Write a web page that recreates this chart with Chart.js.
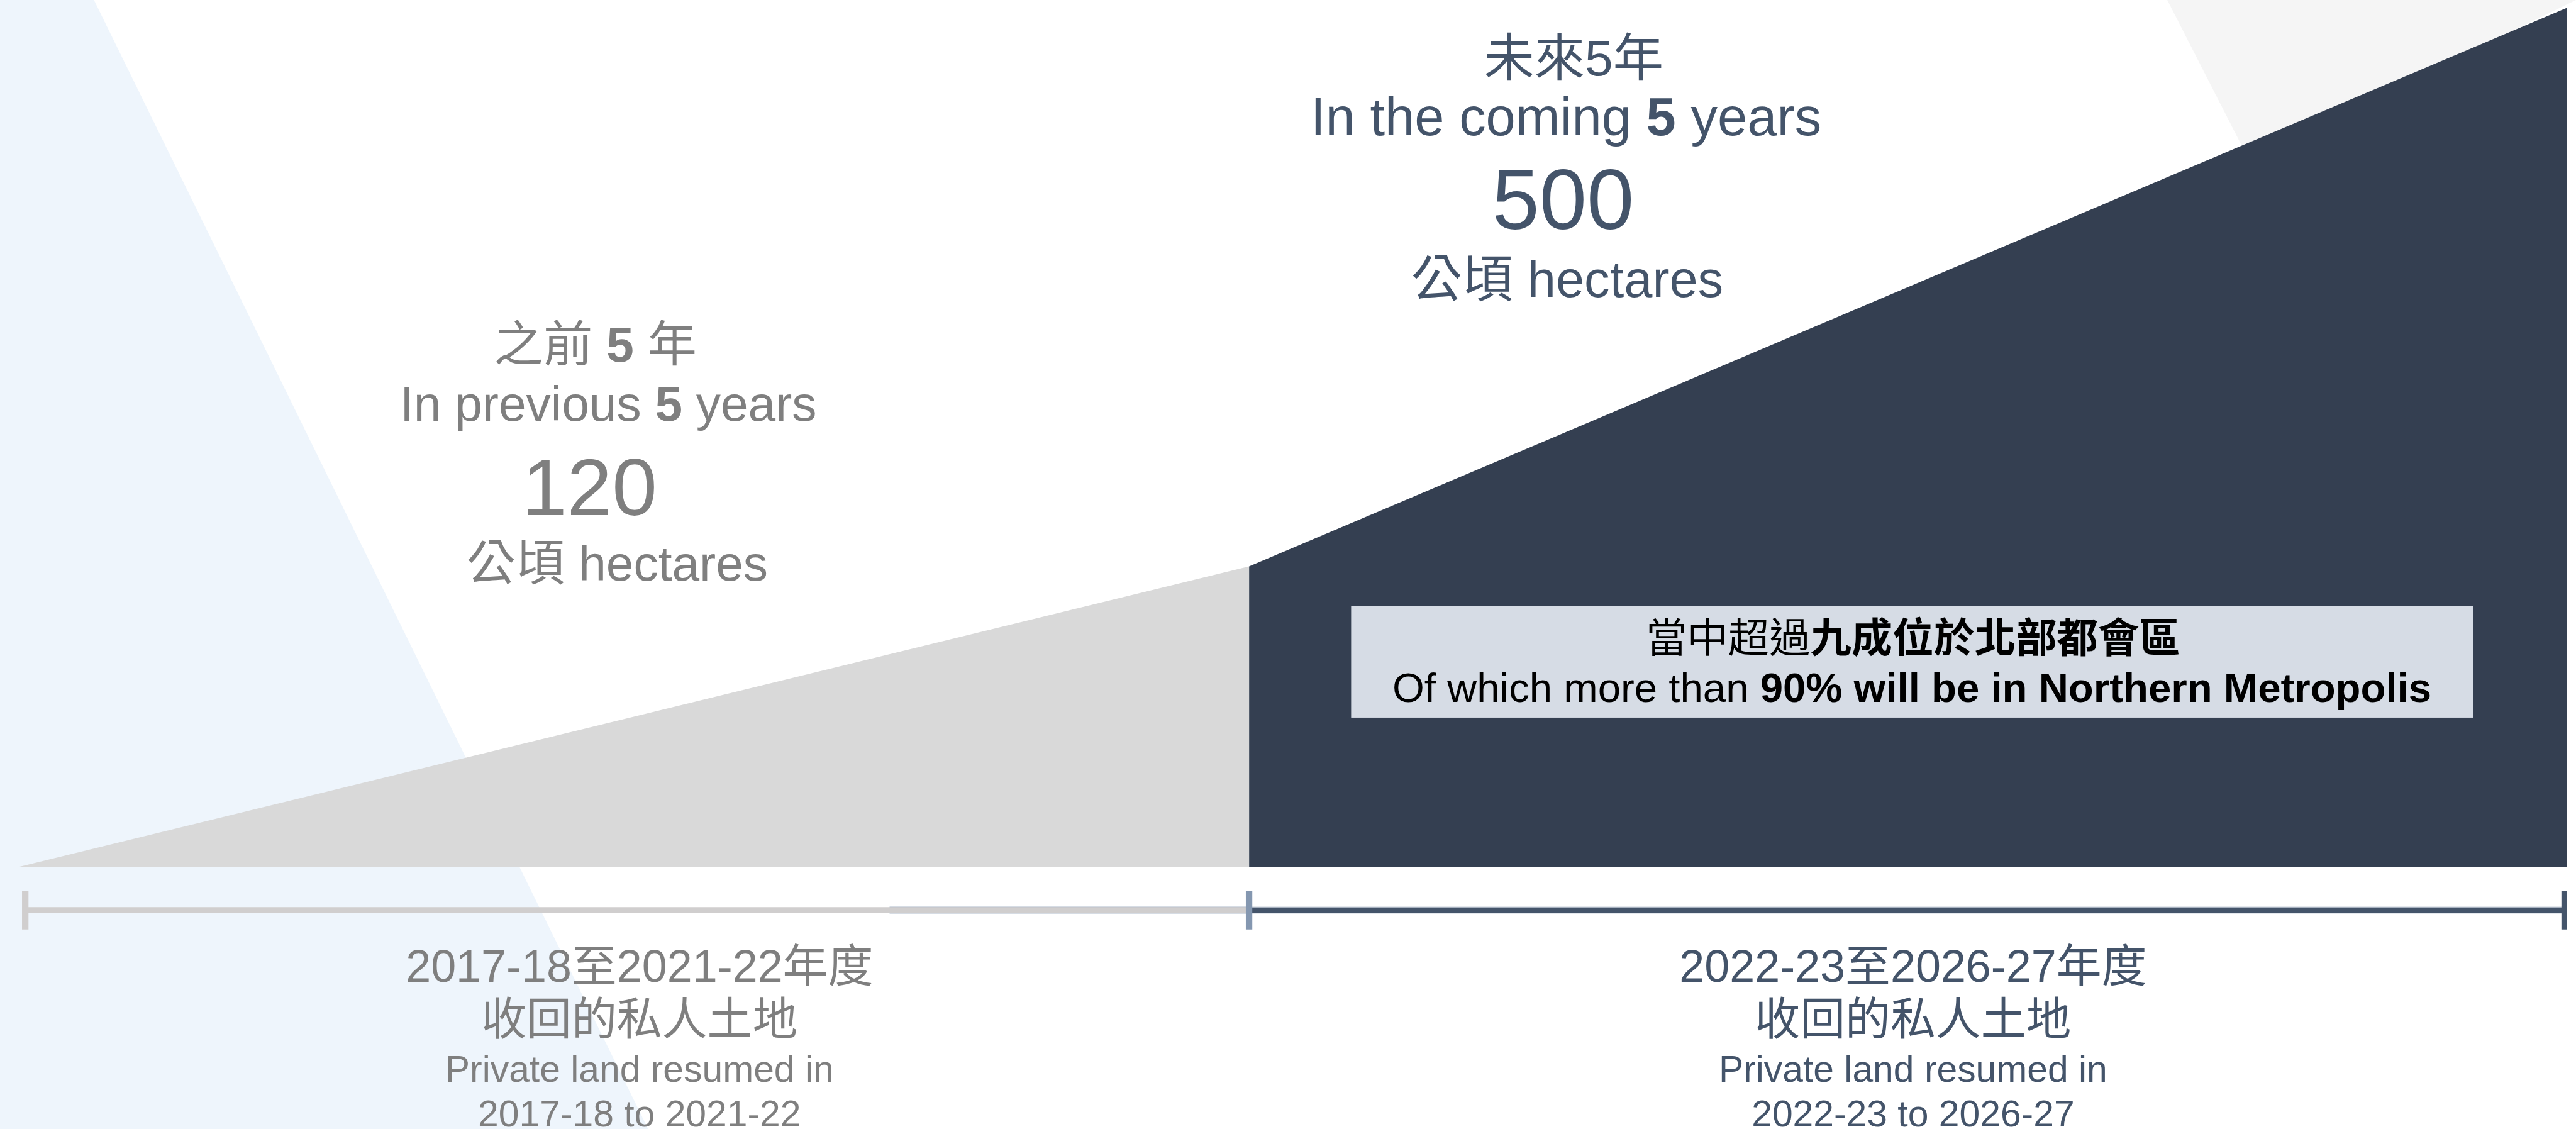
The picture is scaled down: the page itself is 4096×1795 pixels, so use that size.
<!DOCTYPE html>
<html>
<head>
<meta charset="utf-8">
<script src="https://cdn.jsdelivr.net/npm/chart.js@4/dist/chart.umd.min.js"></script>
<style>
  html, body { margin: 0; padding: 0; background: #fff; }
  canvas { display: block; }
</style>
</head>
<body>
<canvas id="landChart" width="4096" height="1795"></canvas>
<script>
// reference was 4387 wide, everything is drawn at this scale
var S = 4096 / 4387;
var FONT = "'Liberation Sans', 'Noto Sans CJK TC', sans-serif";

// area shapes: x is the period axis (0 = start, 10 = end), y is relative height
var shapeX = [0, 4.83, 10];
var shapeHeights = [0, 35, 100];

// timeline along the bottom
var timelineX = [0.03, 4.83, 9.99];
var timelineShadeStart = 3.42;
var timelineY = -5;

// texts
var totals = ['120', '500'];
var periodTitles = ['2017-18至2021-22年度', '2022-23至2026-27年度'];
var periodSub = ['收回的私人土地', '收回的私人土地'];
var periodEn = ['Private land resumed in', 'Private land resumed in'];
var periodRange = ['2017-18 to 2021-22', '2022-23 to 2026-27'];

var grey = '#7F7F7F';
var slate = '#44546A';

// y=0 sits at 1477 and y=100 at 13 in reference pixels, the plot runs to the bottom edge
var yMin = -(1923 - 1477) / ((1477 - 13) / 100);

function pts(xs, ys) {
  var out = [];
  for (var i = 0; i < xs.length; i++) out.push({x: xs[i], y: ys[i]});
  return out;
}

// draw a line made of regular/bold runs, centred on cx (reference coords)
function drawRuns(ctx, parts, cx, y, size, color) {
  var px = size * S;
  var total = 0;
  parts.forEach(function(p) {
    ctx.font = (p[1] ? 'bold ' : '') + px + 'px ' + FONT;
    p.w = ctx.measureText(p[0]).width;
    total += p.w;
  });
  var x = cx * S - total / 2;
  ctx.fillStyle = color;
  ctx.textAlign = 'left';
  ctx.textBaseline = 'alphabetic';
  parts.forEach(function(p) {
    ctx.font = (p[1] ? 'bold ' : '') + px + 'px ' + FONT;
    ctx.fillText(p[0], x, y * S);
    x += p.w;
  });
}

function poly(ctx, points, color) {
  ctx.beginPath();
  points.forEach(function(p, i) {
    if (i == 0) ctx.moveTo(p[0] * S, p[1] * S);
    else ctx.lineTo(p[0] * S, p[1] * S);
  });
  ctx.closePath();
  ctx.fillStyle = color;
  ctx.fill();
}

var backdrop = {
  id: 'backdrop',
  beforeDatasetsDraw: function(chart) {
    var ctx = chart.ctx;
    ctx.save();
    ctx.fillStyle = '#fff';
    ctx.fillRect(0, 0, chart.width, chart.height);
    poly(ctx, [[0, 0], [160, 0], [1104, 1923], [0, 1923]], '#EEF5FC');
    poly(ctx, [[3691, 0], [4387, 0], [3830, 272]], '#F5F5F5');
    ctx.restore();
  }
};

var texts = {
  id: 'texts',
  afterDatasetsDraw: function(chart) {
    var ctx = chart.ctx;
    ctx.save();

    // previous 5 years
    drawRuns(ctx, [['之前 ', 0], ['5', 1], [' 年', 0]], 1014, 616, 84, grey);
    drawRuns(ctx, [['In previous ', 0], ['5', 1], [' years', 0]], 1036, 717, 84, grey);
    drawRuns(ctx, [[totals[0], 0]], 1004, 877, 138, grey);
    drawRuns(ctx, [['公頃 hectares', 0]], 1051, 989, 84, grey);

    // coming 5 years
    drawRuns(ctx, [['未來5年', 0]], 2680, 128, 86, slate);
    drawRuns(ctx, [['In the coming ', 0], ['5', 1], [' years', 0]], 2667, 230, 91, slate);
    drawRuns(ctx, [[totals[1], 0]], 2662, 390, 145, slate);
    drawRuns(ctx, [['公頃 hectares', 0]], 2669, 505, 87, slate);

    // note box
    ctx.fillStyle = '#D6DCE5';
    ctx.fillRect(2301 * S, 1032 * S, (4212 - 2301) * S, (1222 - 1032) * S);
    drawRuns(ctx, [['當中超過', 0], ['九成位於北部都會區', 1]], 3258, 1111, 70, '#000');
    drawRuns(ctx, [['Of which more than ', 0], ['90% will be in Northern Metropolis', 1]], 3256, 1195, 70, '#000');

    // period labels under the timeline
    var cx = [1089, 3258];
    var col = [grey, slate];
    for (var i = 0; i < 2; i++) {
      drawRuns(ctx, [[periodTitles[i], 0]], cx[i], 1672, 77, col[i]);
      drawRuns(ctx, [[periodSub[i], 0]], cx[i], 1762, 77, col[i]);
      drawRuns(ctx, [[periodEn[i], 0]], cx[i], 1842, 63, col[i]);
      drawRuns(ctx, [[periodRange[i], 0]], cx[i], 1918, 63, col[i]);
    }
    ctx.restore();
  }
};

var noPoint = { pointRadius: 0, pointHoverRadius: 0 };

new Chart(document.getElementById('landChart'), {
  type: 'line',
  data: {
    datasets: [
      {
        label: 'ticks',
        data: pts(timelineX, [timelineY, timelineY, timelineY]),
        showLine: false,
        pointStyle: 'line',
        pointRotation: 90,
        pointRadius: 33 * S,
        pointHoverRadius: 33 * S,
        pointBorderWidth: 11 * S,
        pointBorderColor: ['#D0CECE', '#8497B0', slate],
        order: 0
      },
      Object.assign({
        label: 'timeline right',
        data: pts([timelineX[1], timelineX[2]], [timelineY, timelineY]),
        borderColor: slate,
        borderWidth: 9 * S,
        order: 1
      }, noPoint),
      Object.assign({
        label: 'timeline right edge',
        data: pts([timelineX[1], timelineX[2]], [timelineY, timelineY]),
        borderColor: '#C9D1DC',
        borderWidth: 12 * S,
        order: 2
      }, noPoint),
      Object.assign({
        label: 'timeline left',
        data: pts([timelineX[0], timelineX[1]], [timelineY, timelineY]),
        borderColor: '#D0CECE',
        borderWidth: 10 * S,
        order: 3
      }, noPoint),
      Object.assign({
        label: 'timeline left edge',
        data: pts([timelineShadeStart, timelineX[1]], [timelineY, timelineY]),
        borderColor: '#ADB9CA',
        borderWidth: 12 * S,
        order: 4
      }, noPoint),
      Object.assign({
        label: 'coming 5 years',
        data: pts(shapeX.slice(1), shapeHeights.slice(1)),
        fill: 'origin',
        backgroundColor: '#343F51',
        borderWidth: 0,
        tension: 0,
        order: 5
      }, noPoint),
      Object.assign({
        label: 'previous 5 years',
        data: pts(shapeX.slice(0, 2), shapeHeights.slice(0, 2)),
        fill: 'origin',
        backgroundColor: '#D9D9D9',
        borderWidth: 0,
        tension: 0,
        order: 6
      }, noPoint)
    ]
  },
  options: {
    responsive: false,
    devicePixelRatio: 1,
    animation: false,
    events: [],
    layout: {
      autoPadding: false,
      padding: { left: 30 * S, right: 15 * S, top: 13 * S, bottom: 0 }
    },
    scales: {
      x: { type: 'linear', min: 0, max: 10, display: false },
      y: { type: 'linear', min: yMin, max: 100, display: false }
    },
    plugins: {
      legend: { display: false },
      tooltip: { enabled: false }
    }
  },
  plugins: [backdrop, texts]
});
</script>
</body>
</html>
